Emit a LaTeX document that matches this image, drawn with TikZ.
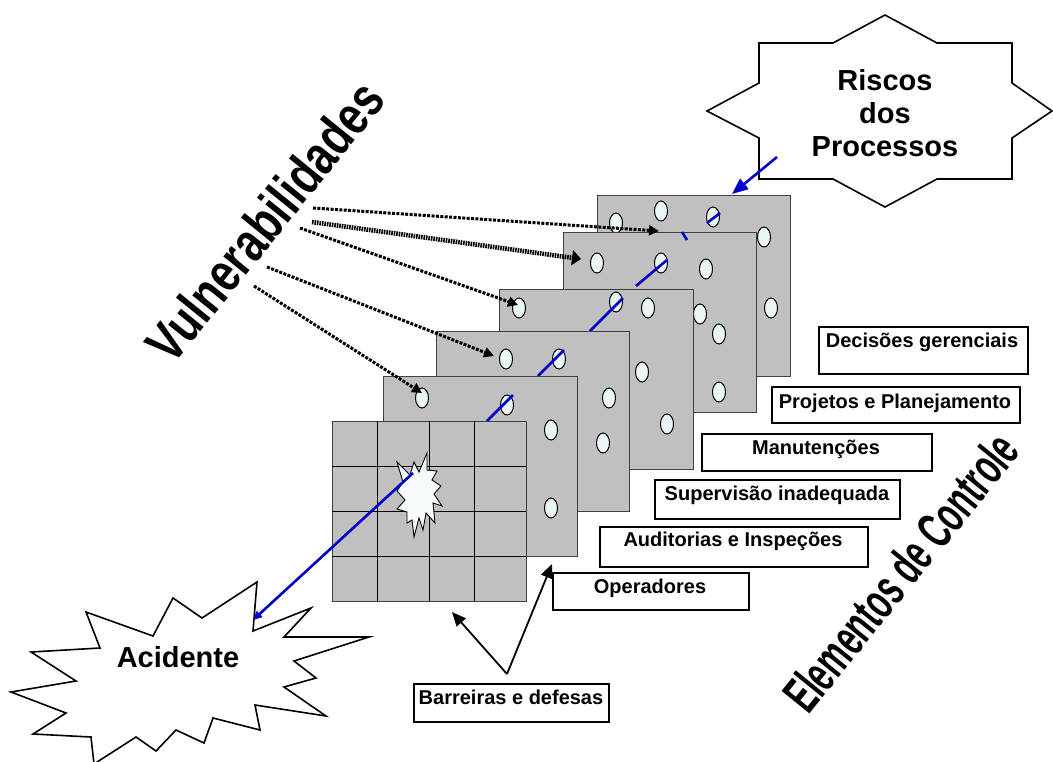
\documentclass[tikz,border=0pt]{standalone}
\usepackage{fontspec}
\setmainfont{Liberation Sans}
\usetikzlibrary{arrows.meta}
\definecolor{panelgray}{RGB}{192,192,192}
\definecolor{holefill}{RGB}{234,245,245}
\definecolor{flashfill}{RGB}{245,250,250}
\definecolor{riskblue}{RGB}{0,0,204}
\begin{document}
\begin{tikzpicture}[x=1pt,y=-1pt,
  outline/.style={draw=black, line width=1.6pt, line join=miter, fill=white},
  panel/.style={fill=panelgray, draw=black!75, line width=1.2pt, inner sep=0pt, anchor=north west},
  hole/.style={fill=holefill, draw=black, line width=1pt},
  gridline/.style={draw=black, line width=1pt},
  flash/.style={fill=flashfill, draw=black, line width=0.9pt},
  bluepath/.style={draw=riskblue, line width=2.6pt},
  vulnarrow/.style={draw=black, line width=3pt, dash pattern=on 3pt off 1.4pt,
    -{Triangle[length=10pt,width=10pt]}},
  vulnthick/.style={draw=black, line width=4.6pt, dash pattern=on 1.6pt off 0.9pt,
    -{Triangle[length=9pt,width=15pt]}},
  pointer/.style={draw=black, line width=1.8pt, -{Triangle[length=14pt,width=12pt]}},
  ctlbox/.style={draw=black, line width=2pt, fill=white, inner sep=0pt, anchor=north west},
  ctltext/.style={font=\fontsize{20}{24}\selectfont\bfseries, inner sep=0pt, anchor=base},
  bigtext/.style={font=\fontsize{29}{33}\selectfont\bfseries, inner sep=0pt, align=center},
  wordart/.style={inner sep=0pt, anchor=base west}
]
\useasboundingbox (0,0) rectangle (1053,761);

% eight-pointed seal holding the process risks
\draw[outline] (885,15) -- (833,43) -- (759,43) -- (759,83) -- (707,111) -- (759,138)
  -- (759,179) -- (833,179) -- (885,207) -- (937,179) -- (1012,179) -- (1012,138)
  -- (1052,111) -- (1012,83) -- (1012,43) -- (937,43) -- cycle;
\node[bigtext] (risk) at (885,113.6) {Riscos\\dos\\Processos};

% accident burst
\draw[outline] (257,582) -- (253,631) -- (311,608) -- (284,637) -- (369,637) -- (294,661)
  -- (316,678) -- (284,687) -- (326,716) -- (255,705) -- (260,730) -- (213,718)
  -- (204,743) -- (176,730) -- (156,751) -- (136,737) -- (94,764) -- (91,737)
  -- (33,734) -- (66,713) -- (11,692) -- (76,681) -- (31,652) -- (100,648)
  -- (86,612) -- (153,636) -- (173,598) -- (202,618) -- cycle;
\node[bigtext, anchor=base] (acc) at (178,667) {Acidente};

% barrier layers, back to front
\node[panel, minimum width=193pt, minimum height=181pt] (p6) at (597,195) {};
\foreach \hx/\hy in {616/223, 661/211, 713/217, 764/237, 771/308}
  \draw[hole] (\hx,\hy) ellipse (6.5 and 10);
\draw[bluepath] (720,213) -- (707,223);

\node[panel, minimum width=193pt, minimum height=180pt] (p5) at (563,232) {};
\foreach \hx/\hy in {597/263, 661/263, 706/269, 700/314, 719/334, 719/392}
  \draw[hole] (\hx,\hy) ellipse (6.5 and 10);
\draw[bluepath] (682,232) -- (687,240);
\draw[bluepath] (667,260) -- (636,286);

\node[panel, minimum width=194pt, minimum height=180pt] (p4) at (499,289) {};
\foreach \hx/\hy in {519/308, 616/302, 648/308, 642/372, 667/424}
  \draw[hole] (\hx,\hy) ellipse (6.5 and 10);
\draw[bluepath] (623,298) -- (590,331);

\node[panel, minimum width=193pt, minimum height=180pt] (p3) at (436,331) {};
\foreach \hx/\hy in {506/359, 559/359, 609/398, 603/443}
  \draw[hole] (\hx,\hy) ellipse (6.5 and 10);
\draw[bluepath] (564,350) -- (538,376);

\node[panel, minimum width=194pt, minimum height=180pt] (p2) at (383,376) {};
\foreach \hx/\hy in {422/398, 507/405, 551/430, 551/508}
  \draw[hole] (\hx,\hy) ellipse (6.5 and 10);
\draw[bluepath] (513,395) -- (487,421);

% front layer with its grid and the breach
\node[panel, minimum width=194pt, minimum height=180pt] (p1) at (332,421) {};
\foreach \gx in {377,429,474} \draw[gridline] (\gx,421) -- (\gx,601);
\foreach \gy in {466,511,556} \draw[gridline] (332,\gy) -- (526,\gy);
\draw[flash] (397,462) -- (410,475) -- (414,462) -- (419,472) -- (427,453) -- (427,470)
  -- (437,471) -- (432,480) -- (441,486) -- (434,494) -- (442,506) -- (433,503)
  -- (435,523) -- (426,513) -- (423,530) -- (419,518) -- (414,537) -- (412,520)
  -- (407,523) -- (407,512) -- (397,509) -- (405,500) -- (397,491) -- (403,482) -- cycle;

% trajectory of the hazard through the layers
\coordinate (riskout) at (777,157);
\coordinate (riskin) at (732,194);
\coordinate (breach) at (413,473);
\coordinate (acchit) at (253,620);
\draw[bluepath, -{Triangle[length=16pt,width=13pt]}] (riskout) -- (riskin);
\draw[bluepath, -{Triangle[length=9pt,width=8pt]}] (breach) -- (acchit);

% vulnerabilities label and its pointers
\node[wordart, rotate=51, xscale=0.78, font=\fontsize{55}{55}\selectfont\bfseries]
  (vuln) at (172,367) {Vulnerabilidades};
\coordinate (v1s) at (313,208); \coordinate (v1e) at (659,231);
\coordinate (v2s) at (312,222); \coordinate (v2e) at (581,259);
\coordinate (v3s) at (300,228); \coordinate (v3e) at (518,305);
\coordinate (v4s) at (267,267); \coordinate (v4e) at (494,356);
\coordinate (v5s) at (254,286); \coordinate (v5e) at (422,393);
\draw[vulnarrow] (v1s) -- (v1e);
\draw[vulnthick] (v2s) -- (v2e);
\draw[vulnarrow] (v3s) -- (v3e);
\draw[vulnarrow] (v4s) -- (v4e);
\draw[vulnarrow] (v5s) -- (v5e);

% control elements
\node[ctlbox, minimum width=209pt, minimum height=47pt] (dec) at (818,326) {};
\node[ctltext] (dect) at (922,347) {Decisões gerenciais};
\node[ctlbox, minimum width=248pt, minimum height=36pt] (proj) at (771,386) {};
\node[ctltext] (projt) at (895,408) {Projetos e Planejamento};
\node[ctlbox, minimum width=230pt, minimum height=37pt] (man) at (701,433) {};
\node[ctltext] (mant) at (816,454) {Manutenções};
\node[ctlbox, minimum width=245pt, minimum height=39pt] (sup) at (654,479) {};
\node[ctltext] (supt) at (777,500) {Supervisão inadequada};
\node[ctlbox, minimum width=268pt, minimum height=40pt] (aud) at (599,526) {};
\node[ctltext] (audt) at (733,546.5) {Auditorias e Inspeções};
\node[ctlbox, minimum width=196pt, minimum height=37pt] (ope) at (552,572) {};
\node[ctltext] (opet) at (650,593) {Operadores};

\node[wordart, rotate=51, xscale=0.6, font=\fontsize{52}{52}\selectfont\bfseries]
  (ctrl) at (808,716) {Elementos de Controle};

% barriers and defences
\node[ctlbox, minimum width=195pt, minimum height=38pt] (barr) at (413,683) {};
\node[ctltext] (barrt) at (511,704) {Barreiras e defesas};
\coordinate (apex) at (507,674);
\coordinate (frontlayer) at (452,612);
\coordinate (secondlayer) at (552,564);
\draw[pointer] (apex) -- (frontlayer);
\draw[pointer] (apex) -- (secondlayer);
\end{tikzpicture}
\end{document}
